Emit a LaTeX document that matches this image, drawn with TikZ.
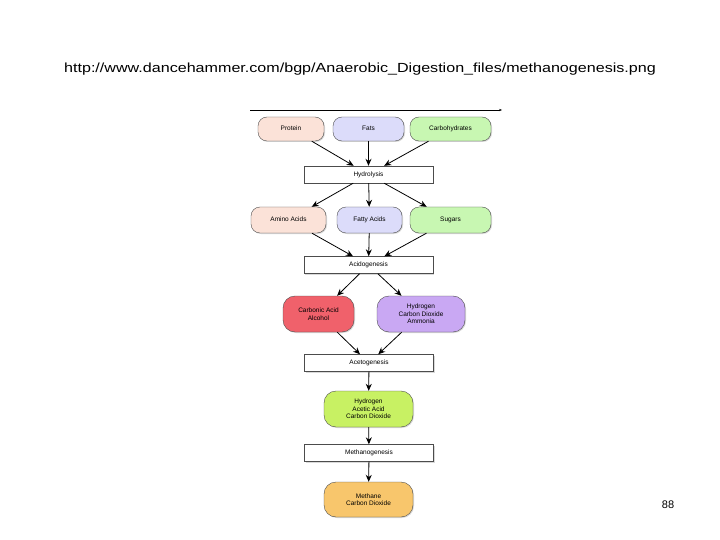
\documentclass[tikz,border=0pt]{standalone}
\usepackage{fontspec}
\setmainfont{Liberation Sans}
\usetikzlibrary{arrows.meta,shadows}
\definecolor{cpink}{HTML}{FBE2D8}
\definecolor{clav}{HTML}{DCDCFA}
\definecolor{cgreen}{HTML}{C8F7B2}
\definecolor{cred}{HTML}{F0616B}
\definecolor{cpur}{HTML}{C9A8F3}
\definecolor{clime}{HTML}{C8F163}
\definecolor{corange}{HTML}{F8C66C}
\tikzset{
 pill/.style={draw=black!70,rounded corners=9pt,align=center,font=\fontsize{6.5}{7.5}\selectfont,inner sep=1pt,drop shadow={shadow xshift=1pt,shadow yshift=-1pt,opacity=.3}},
 one/.style={text height=5pt,text depth=1.5pt},
 proc/.style={draw=black!70,fill=white,minimum width=129pt,minimum height=17pt,text height=5pt,text depth=1.5pt,font=\fontsize{6.5}{7.5}\selectfont,inner sep=1pt,drop shadow={shadow xshift=1pt,shadow yshift=-1pt,opacity=.3}},
 arr/.style={-{Stealth[length=7pt,width=6pt]},thick}
}
\begin{document}
\begin{tikzpicture}[x=1pt,y=-1pt]
\useasboundingbox (0,0) rectangle (720,540);
\node[xscale=1.22] (title) at (360,69) {\fontsize{13.2}{15}\selectfont http://www.dancehammer.com/bgp/Anaerobic\_Digestion\_files/methanogenesis.png};
\coordinate (la) at (250,110); \coordinate (lb) at (502,110);
\draw[-{Stealth[length=3pt]}] (la) -- (lb);
\node[pill,one,fill=cpink,minimum width=66pt,minimum height=24pt] (prot) at (291,129) {Protein};
\node[pill,one,fill=clav,minimum width=71pt,minimum height=24pt] (fats) at (368.5,129) {Fats};
\node[pill,one,fill=cgreen,minimum width=81pt,minimum height=24pt] (carb) at (450.5,129) {Carbohydrates};
\node[proc] (hyd) at (368.5,174.5) {Hydrolysis};
\node[pill,one,fill=cpink,minimum width=75pt,minimum height=26pt] (amino) at (288.5,220) {Amino Acids};
\node[pill,one,fill=clav,minimum width=65pt,minimum height=26pt] (fatty) at (369.5,220) {Fatty Acids};
\node[pill,one,fill=cgreen,minimum width=81pt,minimum height=26pt] (sug) at (450.5,220) {Sugars};
\node[proc] (acid) at (368.5,265) {Acidogenesis};
\node[pill,fill=cred,minimum width=71pt,minimum height=36pt,rounded corners=12pt] (carbo) at (318.5,314) {Carbonic Acid\\Alcohol};
\node[pill,fill=cpur,minimum width=88pt,minimum height=36pt,rounded corners=12pt] (hca) at (421,314) {Hydrogen\\Carbon Dioxide\\Ammonia};
\node[proc] (aceto) at (369,363) {Acetogenesis};
\node[pill,fill=clime,minimum width=89pt,minimum height=36pt,rounded corners=12pt] (hac) at (368.5,409) {Hydrogen\\Acetic Acid\\Carbon Dioxide};
\node[proc] (meth) at (369,453) {Methanogenesis};
\node[pill,fill=corange,minimum width=89pt,minimum height=35pt,rounded corners=12pt] (mc) at (368.5,499.5) {Methane\\Carbon Dioxide};
\node (num) at (668,505) {\fontsize{11}{13}\selectfont 88};
\draw[arr] (prot) -- (hyd);
\draw[arr] (fats) -- (hyd);
\draw[arr] (carb) -- (hyd);
\draw[arr] (hyd) -- (amino);
\draw[arr] (hyd) -- (fatty);
\draw[arr] (hyd) -- (sug);
\draw[arr] (amino) -- (acid);
\draw[arr] (fatty) -- (acid);
\draw[arr] (sug) -- (acid);
\draw[arr] (acid) -- (carbo);
\draw[arr] (acid) -- (hca);
\draw[arr] (carbo) -- (aceto);
\draw[arr] (hca) -- (aceto);
\draw[arr] (aceto) -- (hac);
\draw[arr] (hac) -- (meth);
\draw[arr] (meth) -- (mc);
\end{tikzpicture}
\end{document}
